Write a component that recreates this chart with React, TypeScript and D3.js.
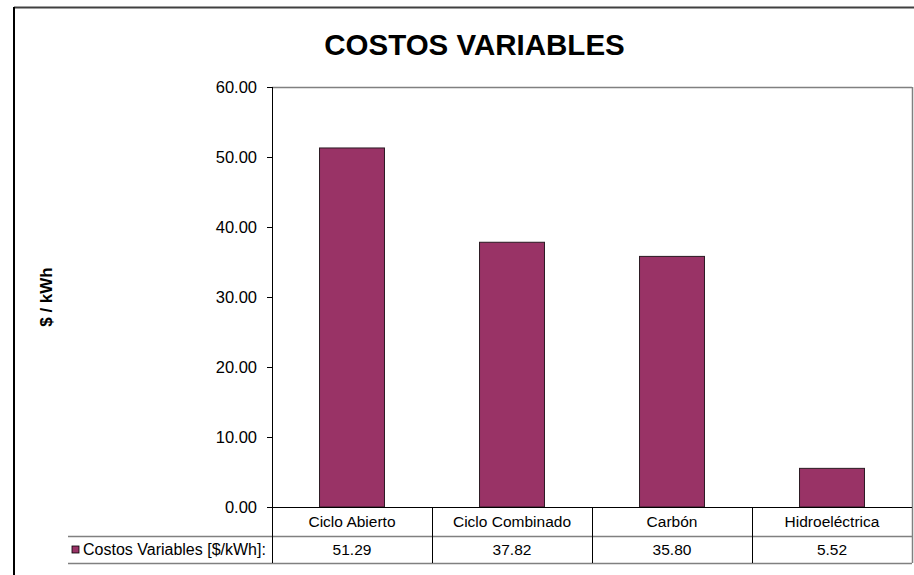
import React from "react";
import * as d3 from "d3";

const categories = ["Ciclo Abierto", "Ciclo Combinado", "Carbón", "Hidroeléctrica"];
const values = [51.29, 37.82, 35.8, 5.52];
const yTicks = [0, 10, 20, 30, 40, 50, 60];
const seriesName = "Costos Variables [$/kWh]:";
const title = "COSTOS VARIABLES";
const yLabel = "$ / kWh";

const W = 914;
const H = 575;
const plot = { left: 272, right: 912, top: 87, bottom: 507 };
const row1 = 536;
const row2 = 563;
const tableLeft = 68;
const font = "'Liberation Sans', Arial, sans-serif";
const barColor = "#993366";

export default function App() {
  const x = d3.scaleBand<string>().domain(categories).range([plot.left, plot.right]).padding(0);
  const y = d3.scaleLinear().domain([0, 60]).range([plot.bottom, plot.top]);
  const bw = x.bandwidth() * 0.406;

  return (
    <svg width={W} height={H} style={{ position: "absolute", left: 0, top: 0, background: "#fff" }} fontFamily={font}>
      <rect x={0} y={0} width={W} height={H} fill="#fff" />
      {/* outer border */}
      <line x1={14} y1={7.5} x2={W} y2={7.5} stroke="#404040" strokeWidth={2} />
      <line x1={14} y1={7} x2={14} y2={H} stroke="#000" strokeWidth={2} />

      <text x={474.5} y={55} textAnchor="middle" fontSize={29.5} fontWeight="bold" fill="#000">
        {title}
      </text>

      {/* plot border */}
      <line x1={plot.left} y1={plot.top + 0.5} x2={plot.right} y2={plot.top + 0.5} stroke="#808080" strokeWidth={1.5} />
      <line x1={plot.right + 0.5} y1={plot.top} x2={plot.right + 0.5} y2={row2} stroke="#808080" strokeWidth={1.5} />

      {/* bars */}
      {categories.map((c, i) => {
        const cx = (x(c) as number) + x.bandwidth() / 2;
        return (
          <rect
            key={c}
            x={cx - bw / 2}
            y={y(values[i])}
            width={bw}
            height={y(0) - y(values[i])}
            fill={barColor}
            stroke="#2a1a22"
            strokeWidth={1}
          />
        );
      })}

      {/* y axis */}
      <line x1={plot.left + 0.5} y1={plot.top} x2={plot.left + 0.5} y2={row2} stroke="#000" strokeWidth={1} />
      {yTicks.map((t) => (
        <g key={t}>
          <line x1={plot.left - 5} x2={plot.left} y1={y(t) + 0.5} y2={y(t) + 0.5} stroke="#000" />
          <text x={plot.left - 15} y={y(t)} dy="0.36em" textAnchor="end" fontSize={16.5} fill="#000">
            {d3.format(".2f")(t)}
          </text>
        </g>
      ))}
      <text
        transform={`translate(52, ${y(30)}) rotate(-90)`}
        textAnchor="middle"
        fontSize={17}
        fontWeight="bold"
        fill="#000"
      >
        {yLabel}
      </text>

      {/* data table */}
      <line x1={plot.left} y1={plot.bottom + 0.5} x2={plot.right} y2={plot.bottom + 0.5} stroke="#000" />
      <line x1={tableLeft} y1={row1 + 0.5} x2={plot.right} y2={row1 + 0.5} stroke="#808080" strokeWidth={1.5} />
      <line x1={tableLeft} y1={row2 + 0.5} x2={plot.right} y2={row2 + 0.5} stroke="#808080" strokeWidth={1.5} />
      {categories.map((c) => (
        <line key={c} x1={(x(c) as number) + 0.5} x2={(x(c) as number) + 0.5} y1={plot.bottom} y2={row2} stroke="#000" />
      ))}
      {categories.map((c, i) => {
        const cx = (x(c) as number) + x.bandwidth() / 2;
        return (
          <g key={c}>
            <text x={cx} y={(plot.bottom + row1) / 2} dy="0.36em" textAnchor="middle" fontSize={15.5} fill="#000">
              {c}
            </text>
            <text x={cx} y={(row1 + row2) / 2} dy="0.36em" textAnchor="middle" fontSize={15.5} fill="#000">
              {d3.format(".2f")(values[i])}
            </text>
          </g>
        );
      })}
      <rect x={72} y={(row1 + row2) / 2 - 3.5} width={7} height={7} fill={barColor} stroke="#000" strokeWidth={0.8} />
      <text x={83} y={(row1 + row2) / 2} dy="0.36em" fontSize={16} fill="#000">
        {seriesName}
      </text>
    </svg>
  );
}
